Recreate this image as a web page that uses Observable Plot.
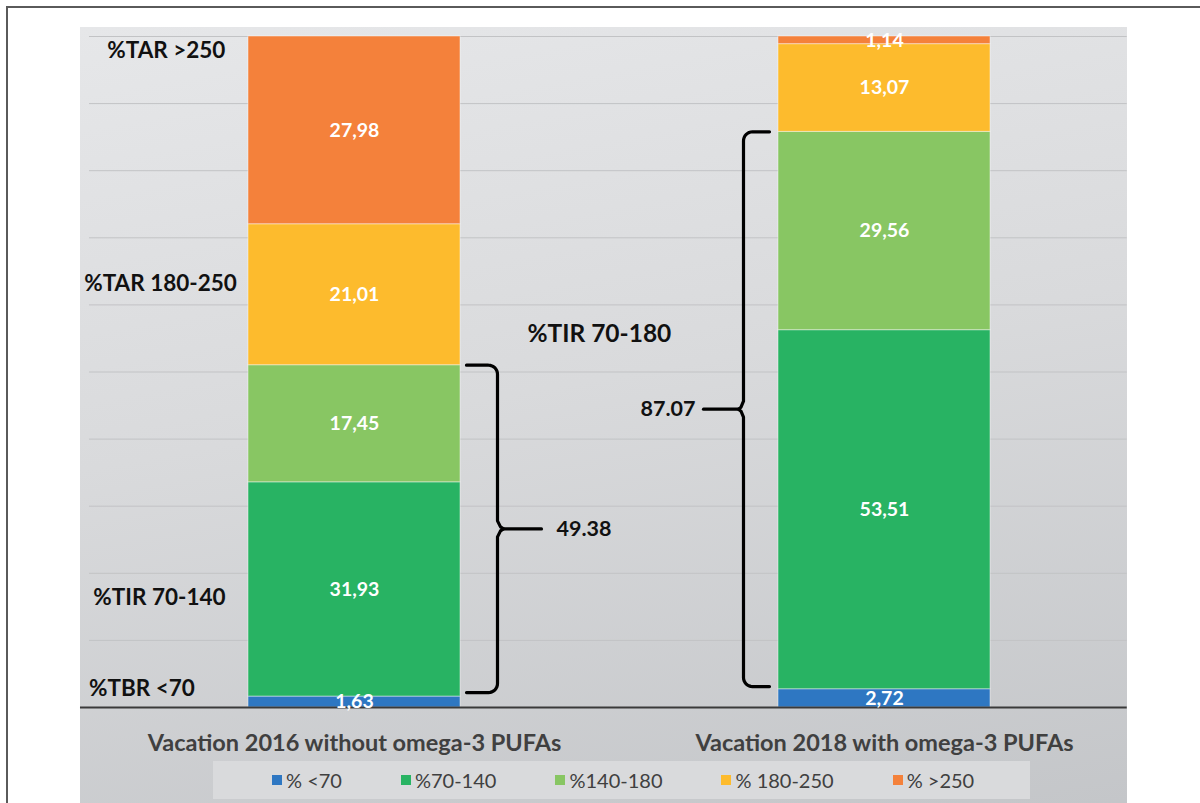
<!DOCTYPE html>
<html><head><meta charset="utf-8">
<script src="https://cdn.jsdelivr.net/npm/d3@7"></script>
<script src="https://cdn.jsdelivr.net/npm/@observablehq/plot@0.6"></script>
<style>
html,body{margin:0;padding:0;background:#fff;}
body{width:1200px;height:803px;position:relative;overflow:hidden;font-family:Lato,"Open Sans",sans-serif;}
#frame{position:absolute;left:6px;top:6px;width:1300px;height:900px;border-left:2px solid #5a5a5a;border-top:2px solid #5a5a5a;}
#panel{position:absolute;left:80px;top:27px;width:1047px;height:800px;background:linear-gradient(170deg,#e6e7e9 0%,#d9dadc 45%,#c3c5c8 100%);}
#chart{position:absolute;left:0;top:0;}
#legend{position:absolute;left:213px;top:761px;width:817px;height:38px;background:#d9dadc;display:flex;flex-wrap:nowrap;align-items:center;box-sizing:border-box;padding-left:59px;overflow:hidden;}
.item{display:flex;flex-shrink:0;white-space:nowrap;align-items:center;margin-right:59px;font-size:20px;color:#404040;}
.sw{width:10px;height:10px;margin-right:4px;flex-shrink:0;}
</style></head>
<body>
<div id="frame"></div>
<div id="panel"></div>
<div id="chart"></div>
<div id="legend"></div>
<script>
// ---- data ----
const categories = ["Vacation 2016 without omega-3 PUFAs", "Vacation 2018 with omega-3 PUFAs"];
const ranges = ["% <70", "%70-140", "%140-180", "% 180-250", "% >250"];
const rangeColors = ["#2e77c2", "#28b363", "#88c663", "#fdbb2d", "#f4813b"];
const values2016 = [1.63, 31.93, 17.45, 21.01, 27.98];
const values2018 = [2.72, 53.51, 29.56, 13.07, 1.14];
const tirTotals = ["49.38", "87.07"];
const sideLabels = ["%TAR >250", "%TAR 180-250", "%TIR 70-140", "%TBR <70"];
const tirTitle = "%TIR 70-180";

// ---- build stacked rows ----
const series = [values2016, values2018];
const rows = [];
series.forEach((vals, i) => {
  let acc = 0;
  vals.forEach((v, j) => {
    rows.push({cat: i, range: ranges[j], value: v, y1: acc, y2: acc + v});
    acc += v;
  });
});
const fmt = v => v.toFixed(2).replace(".", ",");

// pixel -> data conversions (x domain 2 over 1060px, y domain 100 over 671px)
const W = 1200, H = 757, ML = 89, MR = 51, MT = 36, MB = 50;
const PX_X = 2 / (W - ML - MR), PX_Y = 100 / (H - MT - MB);

function brace(id, edge, dir, yTop, yBot, g) {
  const P = (u, yv, dv = 0) => ({id, x: edge + dir * u * PX_X, y: yv + dv * PX_Y});
  const pts = [P(g.u0, yTop)];
  for (let k = 0; k <= 8; k++) {
    const a = Math.PI / 2 * (1 - k / 8);
    pts.push(P(g.uv - g.r + g.r * Math.cos(a), yTop, -g.r + g.r * Math.sin(a)));
  }
  const mid = (yTop + yBot) / 2;
  pts.push(P(g.uv, mid, g.t), P(g.uv + g.tip * 0.5, mid, 2), P(g.uv + g.tip, mid, 0),
           P(g.uv + g.tip * 0.5, mid, -2), P(g.uv, mid, -g.t));
  for (let k = 0; k <= 8; k++) {
    const a = -Math.PI / 2 * k / 8;
    pts.push(P(g.uv - g.r + g.r * Math.cos(a), yBot, g.r + g.r * Math.sin(a)));
  }
  pts.push(P(g.u0, yBot));
  const pointer = [P(g.uv + g.tip, mid), P(g.uv + g.tip + g.len, mid)].map(p => ({...p, id: id + "p"}));
  return {pts, pointer, mid, label: {x: edge + dir * g.lab * PX_X, y: mid}};
}

const tirTop = series.map(v => v[0] + v[1] + v[2]);
const b1 = brace("b1", 0.7, 1, tirTop[0], values2016[0] + 0.6, {u0: 6, uv: 37, r: 9, tip: 6, t: 8, len: 38, lab: 96});
const b2 = brace("b2", 1.3, -1, tirTop[1], values2018[0] + 0.4, {u0: 9, uv: 35, r: 9, tip: 5, t: 8, len: 35, lab: 83});

const sidePos = [{x: 0.145, y: 97.9}, {x: 0.134, y: 63.2}, {x: 0.132, y: 16.4}, {x: 0.099, y: 2.8}];

const chart = Plot.plot({
  width: W, height: H, marginLeft: ML, marginRight: MR, marginTop: MT, marginBottom: MB,
  x: {domain: [0, 2], axis: null},
  y: {domain: [0, 100], axis: null},
  color: {domain: ranges, range: rangeColors},
  style: {background: "transparent", fontFamily: "Lato, 'Open Sans', sans-serif", overflow: "visible"},
  marks: [
    Plot.ruleY(d3.range(10, 101, 10), {x1: 0, x2: 1.958, stroke: "#c2c3c5", strokeWidth: 1}),
    Plot.rectY(rows, {x1: d => d.cat + 0.3, x2: d => d.cat + 0.7, y1: "y1", y2: "y2", fill: "range", stroke: "#ffffff", strokeOpacity: 0.45, strokeWidth: 1}),
    Plot.ruleY([0], {x1: -0.017, x2: 1.958, stroke: "#3a3a3a", strokeWidth: 2}),
    Plot.text(rows, {x: d => d.cat + 0.5, y: d => (d.y1 + d.y2) / 2, text: d => fmt(d.value), fill: "white", fontSize: 19.5, fontWeight: 700}),
    Plot.text(categories, {x: (d, i) => i + 0.5, y: () => 0, dy: 36, text: d => d, fill: "#404040", fontSize: 23.5, fontWeight: 700}),
    Plot.text(sideLabels, {x: (d, i) => sidePos[i].x, y: (d, i) => sidePos[i].y, text: d => d, fill: "#111", fontSize: 22.5, fontWeight: 700}),
    Plot.text([tirTitle], {x: 0.962, y: 55.7, text: d => d, fill: "#111", fontSize: 24.5, fontWeight: 700}),
    Plot.line([...b1.pts, ...b2.pts], {x: "x", y: "y", z: "id", stroke: "#000", strokeWidth: 3.2, strokeLinejoin: "round", strokeLinecap: "round"}),
    Plot.line([...b1.pointer, ...b2.pointer], {x: "x", y: "y", z: "id", stroke: "#000", strokeWidth: 3.2}),
    Plot.text([tirTotals[0]], {x: b1.label.x, y: b1.label.y, text: d => d, textAnchor: "start", fill: "#111", fontSize: 21.5, fontWeight: 700}),
    Plot.text([tirTotals[1]], {x: b2.label.x, y: b2.label.y, text: d => d, textAnchor: "end", fill: "#111", fontSize: 21.5, fontWeight: 700})
  ]
});
document.getElementById("chart").appendChild(chart);

// legend
const leg = document.getElementById("legend");
ranges.forEach((r, i) => {
  const it = document.createElement("div");
  it.className = "item";
  it.innerHTML = `<span class="sw" style="background:${rangeColors[i]}"></span><span>${r}</span>`;
  leg.appendChild(it);
});
</script>
</body></html>
